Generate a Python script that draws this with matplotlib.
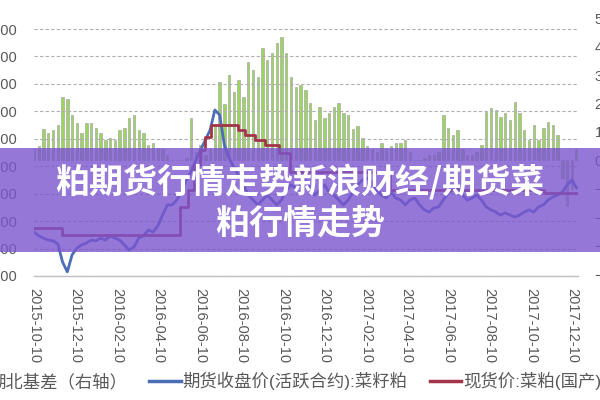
import numpy as np
import pandas as pd
import matplotlib
matplotlib.use('Agg')
import matplotlib.pyplot as plt
import matplotlib.dates as mdates
from matplotlib.patches import Rectangle, Patch
from matplotlib.lines import Line2D

plt.rcParams['font.family'] = ['Liberation Sans', 'Noto Sans CJK SC', 'DejaVu Sans']

# weekly data
weeks = pd.date_range('2015-10-10', periods=115, freq='7D')

basis = [40, 50, 110, 96, 107, 124, 223, 215, 160, 130,
         96, 130, 131, 114, 96, 72, 79, 72, 107, 114,
         150, 160, 107, 96, 54, 61, 44, 40, 20, 0,
         0, 0, 10, 149, 30, 54, 20, 40, 120, 275,
         200, 300, 240, 282, 223, 346, 318, 293, 395, 353,
         377, 412, 433, 377, 293, 258, 265, 247, 202, 142,
         188, 150, 167, 188, 202, 167, 160, 110, 120, 80,
         50, 40, 30, 60, 40, 50, 60, 60, 72, 30,
         0, 0, 10, 20, 20, 30, 160, 114, 89, 107,
         40, 20, 20, 30, 54, 170, 184, 177, 152, 167,
         142, 205, 167, 107, 72, 124, 72, 114, 135, 124,
         89, -60, -160, -100, 40]

futures = [1960, 1946, 1938, 1931, 1928, 1917, 1851, 1815, 1877, 1902,
           1913, 1920, 1931, 1928, 1938, 1931, 1946, 1938, 1931, 1913,
           1895, 1906, 1938, 1946, 1968, 1960, 1982, 2022, 2059, 2059,
           2077, 2106, 2150, 2179, 2223, 2259, 2296, 2332, 2405, 2387,
           2277, 2230, 2194, 2168, 2132, 2095, 2077, 2059, 2077, 2095,
           2077, 2059, 2077, 2113, 2132, 2121, 2132, 2150, 2121, 2095,
           2113, 2132, 2106, 2095, 2077, 2059, 2077, 2106, 2132, 2150,
           2157, 2143, 2113, 2095, 2084, 2106, 2084, 2077, 2059, 2077,
           2084, 2059, 2041, 2033, 2048, 2052, 2077, 2102, 2113, 2121,
           2095, 2077, 2084, 2095, 2077, 2052, 2041, 2033, 2022, 2030,
           2022, 2015, 2022, 2033, 2041, 2033, 2052, 2059, 2077, 2088,
           2095, 2106, 2132, 2150, 2121]

# spot price changes (step line)
spot_dates = pd.to_datetime(['2015-10-10', '2015-11-20', '2016-05-11', '2016-05-23',
                             '2016-06-02', '2016-06-10', '2016-06-17', '2016-06-27',
                             '2016-08-05', '2016-08-15', '2016-08-30', '2016-09-13',
                             '2016-10-05', '2016-10-20', '2017-03-16', '2017-10-29',
                             '2017-12-17'])
spot = [1975, 1950, 2050, 2113, 2204, 2259, 2306, 2350, 2332, 2314,
        2296, 2277, 2248, 2179, 2113, 2102, 2102]

tick_dates = pd.date_range('2015-10-01', '2017-12-01', freq='2MS') + pd.Timedelta(days=9)
left_ticks = list(range(1800, 2701, 100))
right_ticks = list(range(-400, 501, 100))

label_basis = '湖北基差（右轴）'
label_fut = '期货收盘价(活跃合约):菜籽粕'
label_spot = '现货价:菜粕(国产)'
banner_lines = ['粕期货行情走势新浪财经/期货菜', '粕行情走势']

grey_txt = '#595959'

fig = plt.figure(figsize=(6, 4), dpi=100)
ax = fig.add_axes([34 / 600, 1 - 276 / 400, 544 / 600, 266 / 400])
ax2 = ax.twinx()

# bars on the right axis, behind the lines
ax2.bar(weeks, basis, width=3.5, color='#9ad65c', edgecolor='#a8a8a8', linewidth=0.5)
ax2.set_ylim(-405.3, 528.1)
ax2.set_yticks(right_ticks)

ax.set_zorder(ax2.get_zorder() + 1)
ax.patch.set_visible(False)

ax.plot(weeks, futures, color='#4a6db5', lw=2.0)
ax.step(spot_dates, spot, where='post', color='#a3354a', lw=2.0)

ax.set_ylim(1800, 2769.3)
ax.set_yticks(left_ticks)
ax.set_xlim(pd.Timestamp('2015-10-10'), pd.Timestamp('2017-12-18'))
ax.set_xticks(tick_dates)
ax.xaxis.set_major_formatter(mdates.DateFormatter('%Y-%m-%d'))
for lab in ax.get_xticklabels():
    lab.set_rotation(-90)

ax.grid(axis='y', color='#b0b0b0', linestyle=(0, (3, 2)), lw=0.8)
ax.set_axisbelow(True)

for sp in ax.spines.values():
    sp.set_visible(False)
for sp in ax2.spines.values():
    sp.set_visible(False)
ax.spines['bottom'].set_visible(True)
ax.spines['bottom'].set_color('#bfbfbf')
ax.spines['bottom'].set_linewidth(1.0)

ax.tick_params(axis='both', length=0, labelsize=10.5, labelcolor=grey_txt)
ax.tick_params(axis='y', pad=12)
ax.tick_params(axis='x', pad=9)
ax2.tick_params(axis='y', length=0, labelsize=10.5, labelcolor=grey_txt, pad=12)

handles = [Patch(facecolor='#92d050', edgecolor='#a0a0a0'),
           Line2D([], [], color='#4a6db5', lw=2.5),
           Line2D([], [], color='#a3354a', lw=2.5)]
fig.legend(handles, [label_basis, label_fut, label_spot], loc='center',
           bbox_to_anchor=(278 / 600, 1 - 381 / 400), ncol=3, frameon=False,
           fontsize=12.5, handlelength=1.8, handletextpad=0.1, columnspacing=1.3,
           labelcolor=grey_txt)

# purple banner across the middle
fig.add_artist(Rectangle((0, 1 - 252 / 400), 1, 104 / 400, transform=fig.transFigure,
                         facecolor='#7b55cf', alpha=0.8, edgecolor='none', zorder=10))
fig.text(0.5, 1 - 182 / 400, banner_lines[0], ha='center', va='center', color='white',
         fontsize=24.5, fontweight='bold', family=['Noto Sans CJK SC', 'DejaVu Sans'], zorder=11)
fig.text(0.5, 1 - 223 / 400, banner_lines[1], ha='center', va='center', color='white',
         fontsize=24.5, fontweight='bold', family=['Noto Sans CJK SC', 'DejaVu Sans'], zorder=11)

fig.savefig('out.png', dpi=100)
